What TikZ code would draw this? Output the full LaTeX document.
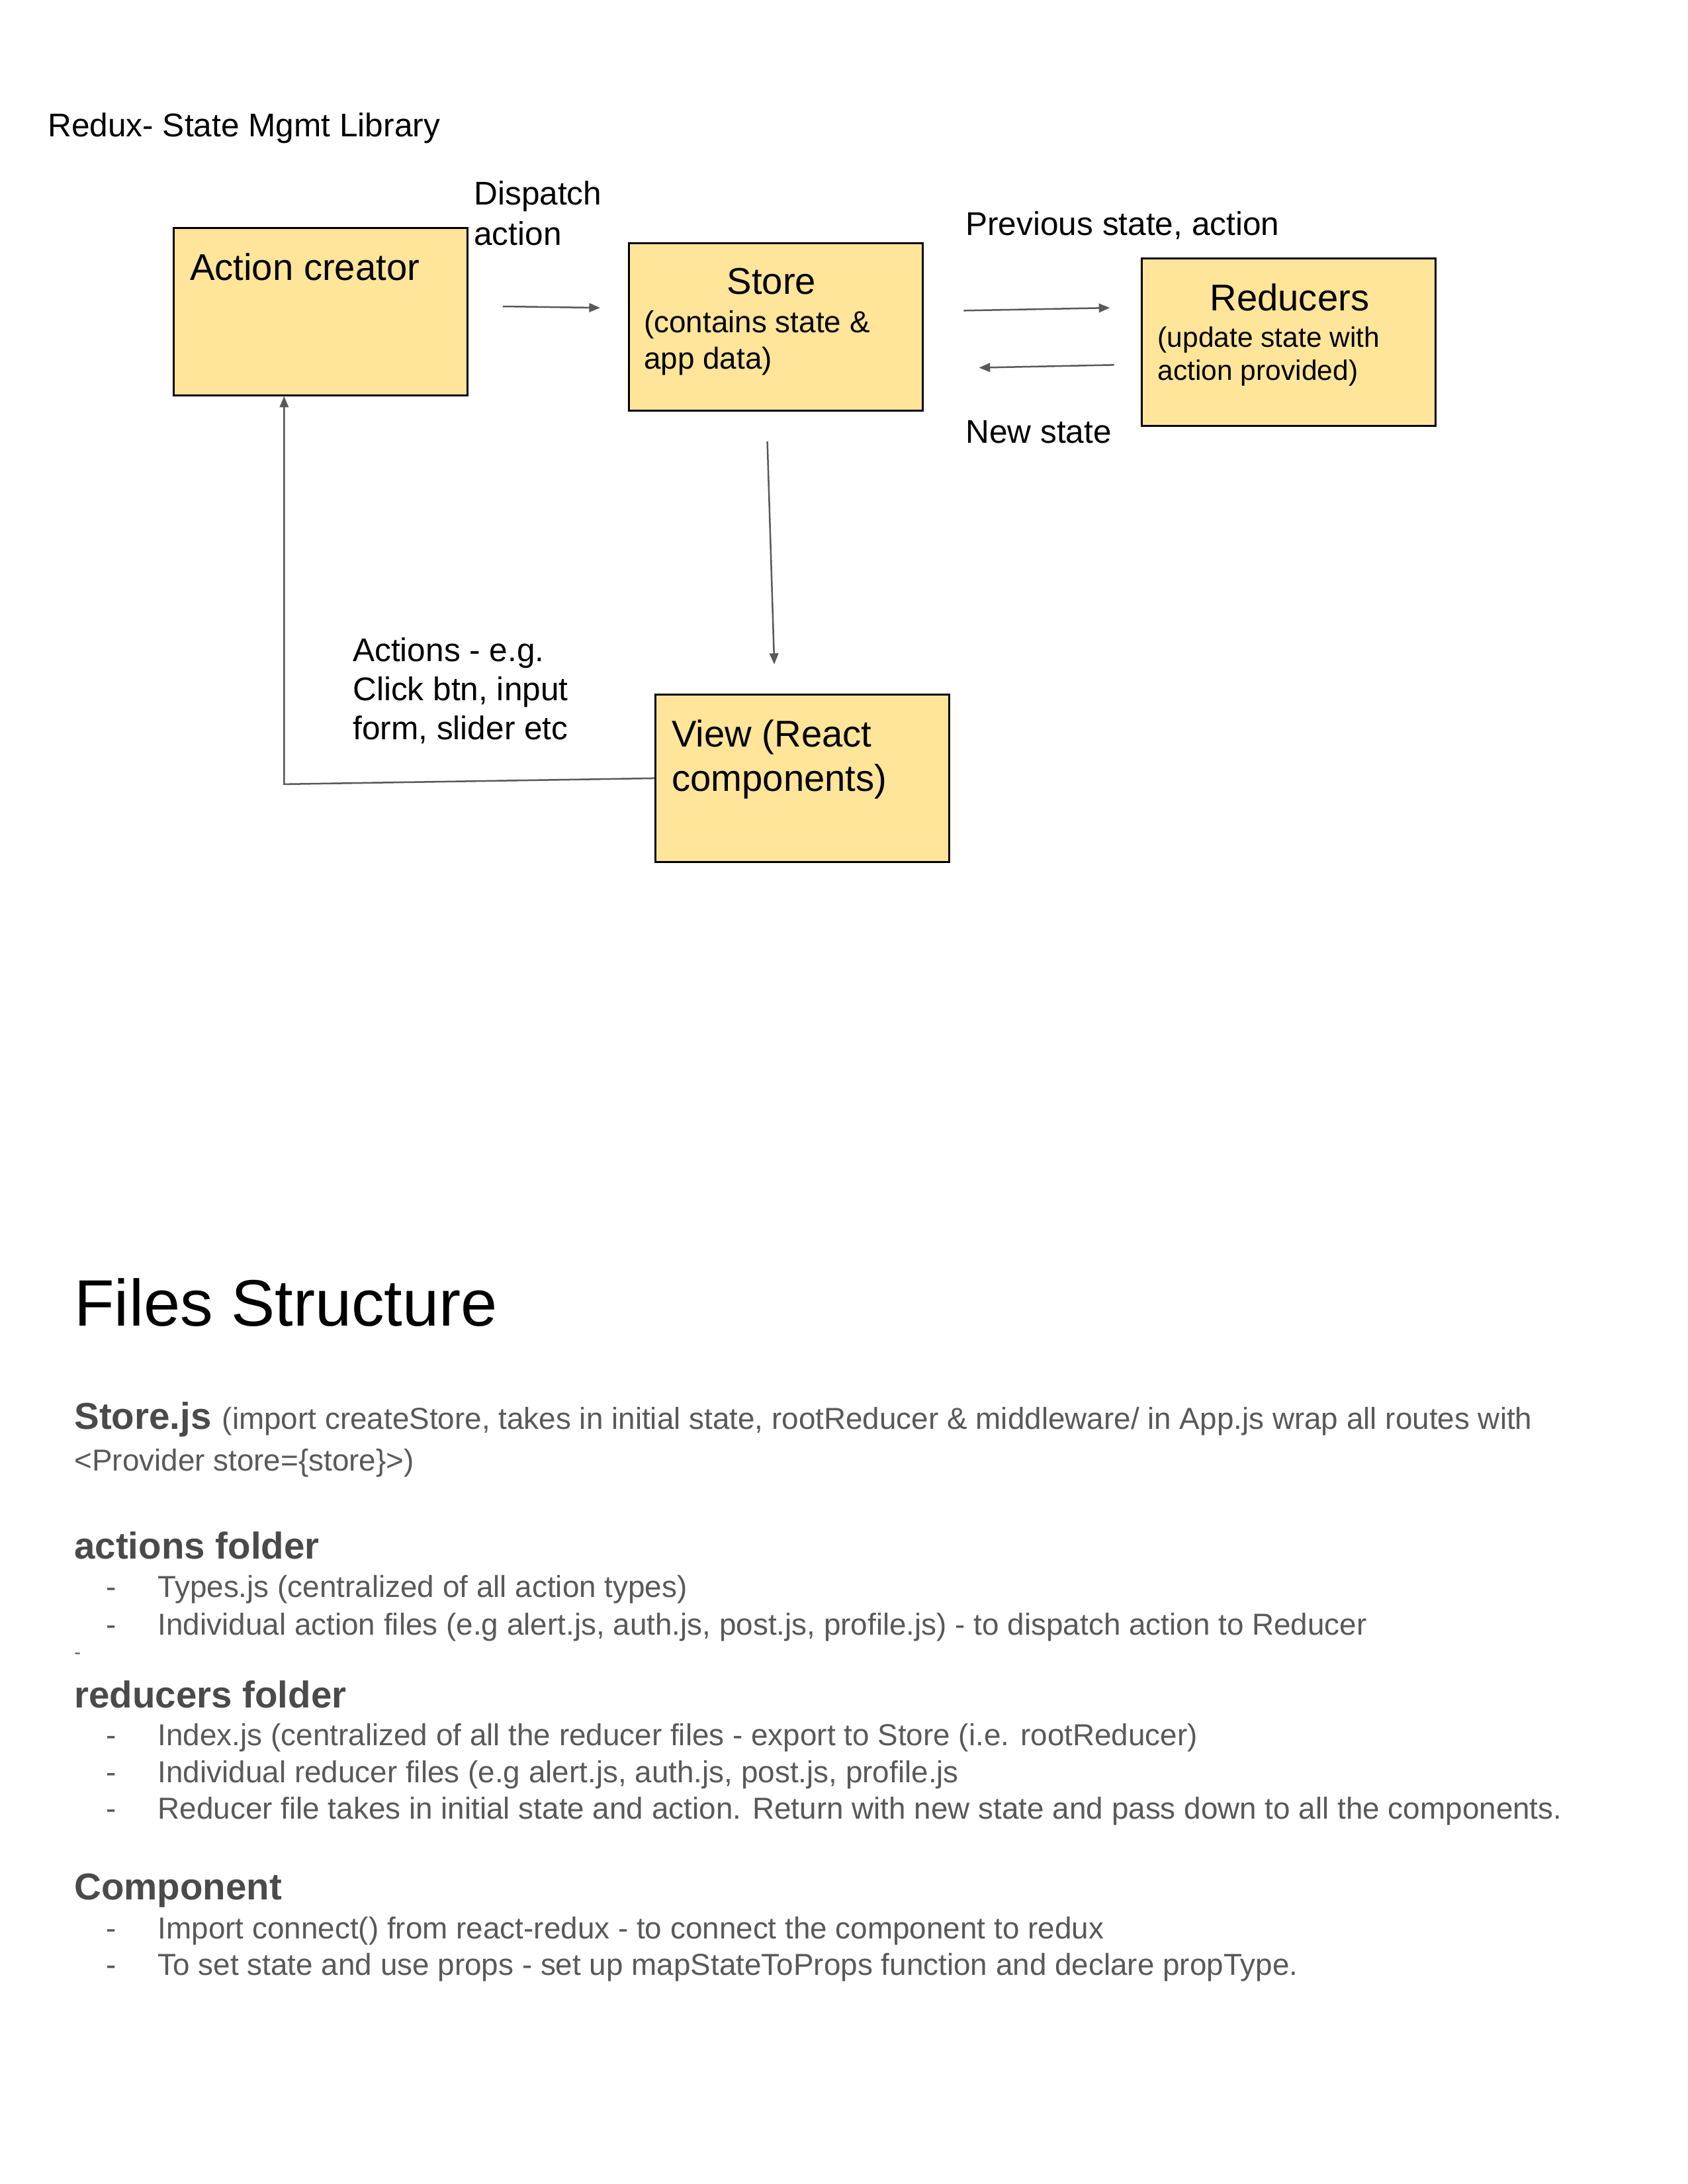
\documentclass[tikz,border=0pt]{standalone}
\usepackage{fontspec}
\setmainfont{Liberation Sans}
\usetikzlibrary{arrows.meta}
\definecolor{boxfill}{HTML}{FFE599}
\definecolor{arrowgray}{HTML}{595959}
\definecolor{bodygray}{HTML}{595959}
\definecolor{headgray}{HTML}{4A4A4A}
\tikzset{
  box/.style={draw=black, line width=0.75pt, fill=boxfill, inner sep=0pt, anchor=north west,
              minimum width=106.5pt, minimum height=60.6pt},
  arr/.style={draw=arrowgray, line width=0.6pt, -{Triangle[length=4pt,width=3.2pt]}},
  lbl/.style={anchor=base west, inner sep=0pt, font=\fontsize{11.9}{14}\selectfont},
  big/.style={anchor=base west, inner sep=0pt, font=\fontsize{13.5}{16}\selectfont},
  small/.style={anchor=base west, inner sep=0pt, font=\fontsize{11}{13}\selectfont},
  smaller/.style={anchor=base west, inner sep=0pt, font=\fontsize{10.2}{12}\selectfont},
  titletext/.style={anchor=base west, inner sep=0pt, font=\fontsize{23.8}{28}\selectfont},
  heading/.style={anchor=base west, inner sep=0pt, text=headgray, font=\fontsize{13.55}{16}\selectfont\bfseries},
  body/.style={anchor=base west, inner sep=0pt, text=bodygray, font=\fontsize{11}{13}\selectfont},
}
\begin{document}
\begin{tikzpicture}[x=0.50495pt, y=-0.50495pt]
\useasboundingbox[fill=white] (0,0) rectangle (1212,1568);

% ---------- diagram ----------
\node[lbl] (title) at (34,98) {Redux- State Mgmt Library};

\node[box] (ac) at (124,163) {};
\node[box] (store) at (451,174) {};
\node[box] (red) at (819,185) {};
\node[box] (view) at (470,498) {};

\node[big] (actext) at (136,201) {Action creator};
\node[big, anchor=base] (storetitle) at (554,211) {Store};
\node[small] (storesub1) at (462,239) {(contains state \&};
\node[small] (storesub2) at (462,265) {app data)};
\node[big, anchor=base] (redtitle) at (926,223) {Reducers};
\node[smaller] (redsub1) at (831,249) {(update state with};
\node[smaller] (redsub2) at (831,273) {action provided)};
\node[big] (viewtext1) at (482,536) {View (React};
\node[big] (viewtext2) at (482,568) {components)};

\node[lbl] (disp1) at (340,147) {Dispatch};
\node[lbl] (disp2) at (340,176) {action};
\node[lbl] (prev) at (693,169) {Previous state, action};
\node[lbl] (newst) at (693,318) {New state};
\node[lbl] (act1) at (253,475) {Actions - e.g.};
\node[lbl] (act2) at (253,503) {Click btn, input};
\node[lbl] (act3) at (253,531) {form, slider etc};

\coordinate (dispA) at (361,220);
\coordinate (dispB) at (431,221);
\coordinate (prevA) at (692,223);
\coordinate (prevB) at (797,221);
\coordinate (newA) at (800,262);
\coordinate (newB) at (703,264);
\coordinate (downA) at (551,317);
\coordinate (downB) at (556,477);
\coordinate (turn) at (204,563);

\draw[arr] (dispA) -- (dispB);
\draw[arr] (prevA) -- (prevB);
\draw[arr] (newA) -- (newB);
\draw[arr] (downA) -- (downB);
\draw[arr] (view.west) -- (turn) -- (turn |- ac.south);

% ---------- files structure ----------
\node[titletext] (fs) at (53,952) {Files Structure};

\node[heading] (storejs) at (53,1026) {Store.js};
\node[body] (storejs1) at ([xshift=3.5pt]storejs.base east) {(import createStore, takes in initial state, rootReducer \& middleware/ in App.js wrap all routes with};
\node[body] (storejs2) at (53,1056) {<Provider store=\{store\}>)};

\node[heading] (actf) at (53,1119) {actions folder};
\node[body] (ab1) at (76,1147) {-};
\node[body] (ai1) at (113,1147) {Types.js (centralized of all action types)};
\node[body] (ab2) at (76,1174) {-};
\node[body] (ai2) at (113,1174) {Individual action files (e.g alert.js, auth.js, post.js, profile.js) - to dispatch action to Reducer};
\node[body, font=\fontsize{7}{8}\selectfont] (stray) at (53,1191) {-};

\node[heading] (redf) at (53,1226) {reducers folder};
\node[body] (rb1) at (76,1253) {-};
\node[body] (ri1) at (113,1253) {Index.js (centralized of all the reducer files - export to Store (i.e. rootReducer)};
\node[body] (rb2) at (76,1280) {-};
\node[body] (ri2) at (113,1280) {Individual reducer files (e.g alert.js, auth.js, post.js, profile.js};
\node[body] (rb3) at (76,1306) {-};
\node[body] (ri3) at (113,1306) {Reducer file takes in initial state and action. Return with new state and pass down to all the components.};

\node[heading] (compf) at (53,1364) {Component};
\node[body] (cb1) at (76,1392) {-};
\node[body] (ci1) at (113,1392) {Import connect() from react-redux - to connect the component to redux};
\node[body] (cb2) at (76,1418) {-};
\node[body] (ci2) at (113,1418) {To set state and use props - set up mapStateToProps function and declare propType.};
\end{tikzpicture}
\end{document}
